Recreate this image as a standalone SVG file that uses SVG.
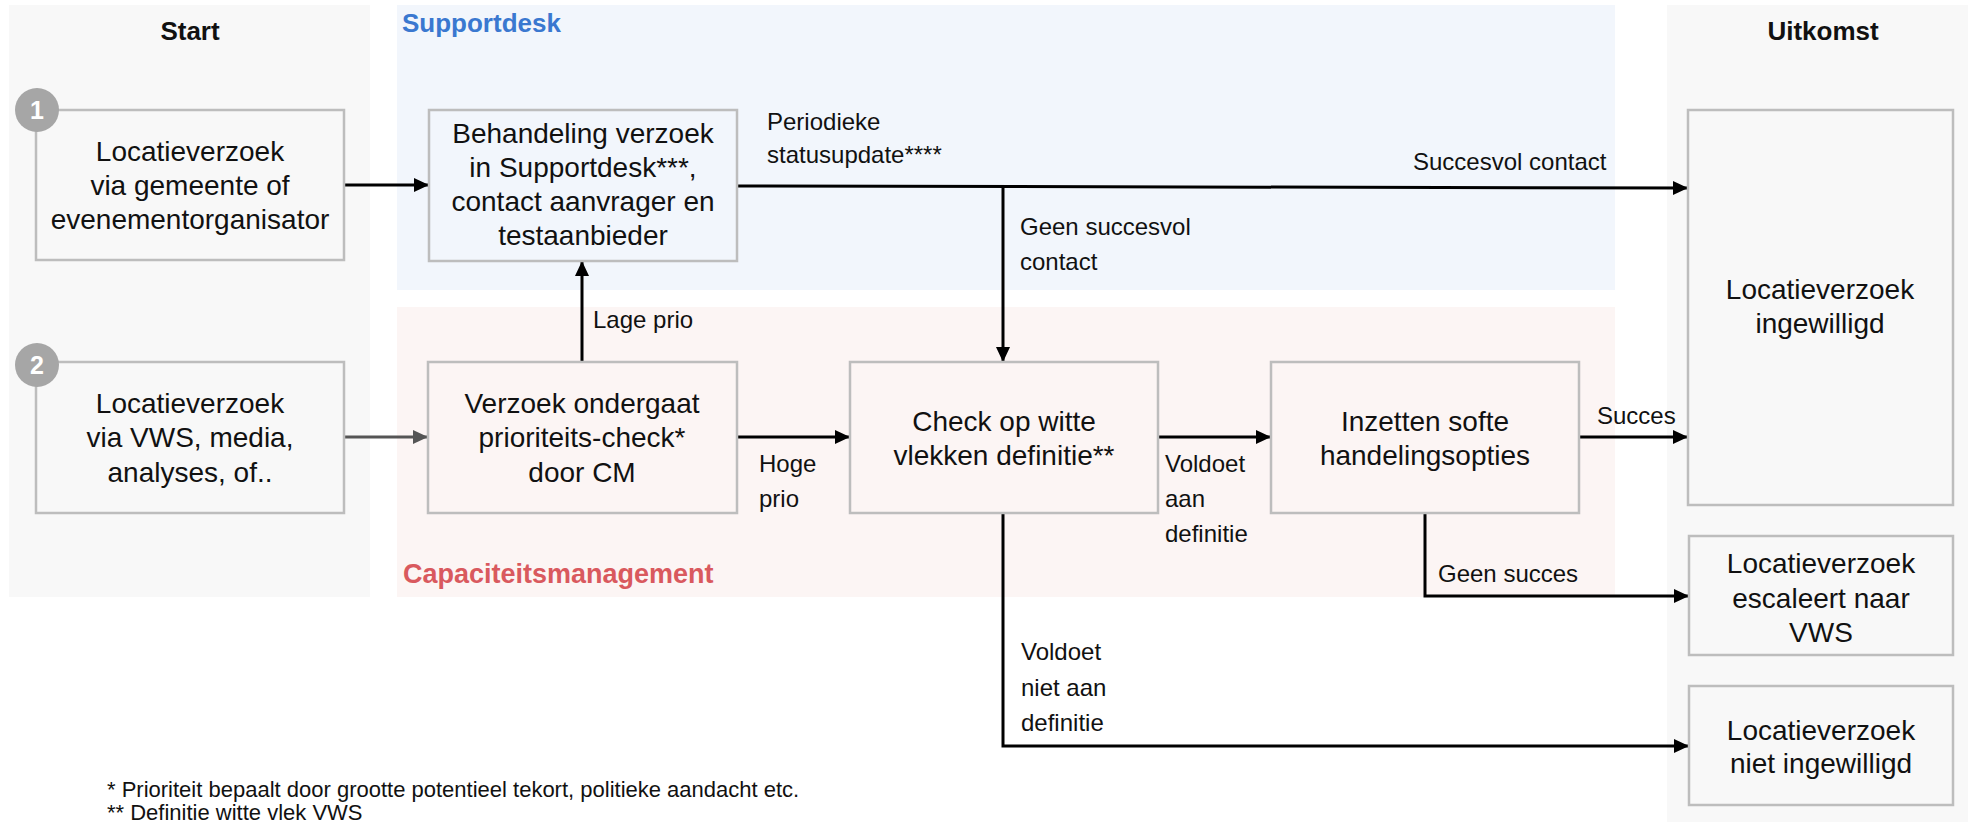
<svg xmlns="http://www.w3.org/2000/svg" width="1972" height="827" viewBox="0 0 1972 827">
<style>
text{font-family:"Liberation Sans",Arial,sans-serif;fill:#111}
.box{fill:none;stroke:#bdbdbd;stroke-width:2.5}
.bt{font-size:28px;text-anchor:middle}
.lb{font-size:24px}
.hd{font-size:26px;font-weight:bold}
.cn{fill:none;stroke:#000;stroke-width:3}
.num{fill:#a6a6a6}
.nt{font-size:25px;font-weight:bold;fill:#fff;text-anchor:middle}
.fn{font-size:22px}
</style>
<defs>
<marker id="ah" markerUnits="userSpaceOnUse" markerWidth="16" markerHeight="16" refX="15" refY="8" orient="auto">
<path d="M0,1 L15,8 L0,15 Z" fill="#000"/>
</marker>
<marker id="ahg" markerUnits="userSpaceOnUse" markerWidth="16" markerHeight="16" refX="15" refY="8" orient="auto">
<path d="M0,1 L15,8 L0,15 Z" fill="#555"/>
</marker>
</defs>
<rect width="1972" height="827" fill="#fff"/>
<g id="lanes">
<rect x="9" y="5" width="361" height="592" fill="#f8f8f8"/>
<rect x="397" y="5" width="1218" height="285" fill="#f2f6fc"/>
<rect x="397" y="307" width="1218" height="290" fill="#fcf5f4"/>
<rect x="1667" y="5" width="301" height="817" fill="#f8f8f8"/>
<text class="hd" x="190" y="40" text-anchor="middle">Start</text>
<text class="hd" x="402" y="32" style="fill:#3a78d0">Supportdesk</text>
<text class="hd" x="403" y="583" style="fill:#d9595e;font-size:27px">Capaciteitsmanagement</text>
<text class="hd" x="1823" y="40" text-anchor="middle">Uitkomst</text>
</g>
<g id="connectors">
<path class="cn" d="M344,185 H429" marker-end="url(#ah)"/>
<path class="cn" d="M344,437 H428" style="stroke:#555" marker-end="url(#ahg)"/>
<path class="cn" d="M582,362 V261" marker-end="url(#ah)"/>
<path class="cn" d="M737,186 L1688,188" marker-end="url(#ah)"/>
<path class="cn" d="M1003,186 V362" marker-end="url(#ah)"/>
<path class="cn" d="M737,437 H850" marker-end="url(#ah)"/>
<path class="cn" d="M1158,437 H1271" marker-end="url(#ah)"/>
<path class="cn" d="M1579,437 H1688" marker-end="url(#ah)"/>
<path class="cn" d="M1425,513 V596 H1689" marker-end="url(#ah)"/>
<path class="cn" d="M1003,513 V746 H1689" marker-end="url(#ah)"/>
<text class="lb" x="593" y="328">Lage prio</text>
<text class="lb" x="767" y="130">Periodieke</text>
<text class="lb" x="767" y="163">statusupdate****</text>
<text class="lb" x="1413" y="170">Succesvol contact</text>
<text class="lb" x="1020" y="235">Geen succesvol</text>
<text class="lb" x="1020" y="270">contact</text>
<text class="lb" x="759" y="472">Hoge</text>
<text class="lb" x="759" y="507">prio</text>
<text class="lb" x="1165" y="472">Voldoet</text>
<text class="lb" x="1165" y="507">aan</text>
<text class="lb" x="1165" y="542">definitie</text>
<text class="lb" x="1597" y="424">Succes</text>
<text class="lb" x="1438" y="582">Geen succes</text>
<text class="lb" x="1021" y="660">Voldoet</text>
<text class="lb" x="1021" y="696">niet aan</text>
<text class="lb" x="1021" y="731">definitie</text>
</g>
<g id="n1">
<rect class="box" x="36" y="110" width="308" height="150"/>
<circle class="num" cx="37" cy="110" r="22"/>
<text class="nt" x="37" y="119">1</text>
<text class="bt" x="190" y="161">Locatieverzoek</text>
<text class="bt" x="190" y="195">via gemeente of</text>
<text class="bt" x="190" y="229">evenementorganisator</text>
</g>
<g id="n2">
<rect class="box" x="36" y="362" width="308" height="151"/>
<circle class="num" cx="37" cy="365" r="22"/>
<text class="nt" x="37" y="374">2</text>
<text class="bt" x="190" y="413">Locatieverzoek</text>
<text class="bt" x="190" y="447">via VWS, media,</text>
<text class="bt" x="190" y="482">analyses, of..</text>
</g>
<g id="behandeling">
<rect class="box" x="429" y="110" width="308" height="151"/>
<text class="bt" x="583" y="143">Behandeling verzoek</text>
<text class="bt" x="583" y="177">in Supportdesk***,</text>
<text class="bt" x="583" y="211">contact aanvrager en</text>
<text class="bt" x="583" y="245">testaanbieder</text>
</g>
<g id="verzoek">
<rect class="box" x="428" y="362" width="309" height="151"/>
<text class="bt" x="582" y="413">Verzoek ondergaat</text>
<text class="bt" x="582" y="447">prioriteits-check*</text>
<text class="bt" x="582" y="482">door CM</text>
</g>
<g id="check">
<rect class="box" x="850" y="362" width="308" height="151"/>
<text class="bt" x="1004" y="431">Check op witte</text>
<text class="bt" x="1004" y="465">vlekken definitie**</text>
</g>
<g id="inzetten">
<rect class="box" x="1271" y="362" width="308" height="151"/>
<text class="bt" x="1425" y="431">Inzetten softe</text>
<text class="bt" x="1425" y="465">handelingsopties</text>
</g>
<g id="ingewilligd">
<rect class="box" x="1688" y="110" width="265" height="395"/>
<text class="bt" x="1820" y="299">Locatieverzoek</text>
<text class="bt" x="1820" y="333">ingewilligd</text>
</g>
<g id="escaleert">
<rect class="box" x="1689" y="536" width="264" height="119"/>
<text class="bt" x="1821" y="573">Locatieverzoek</text>
<text class="bt" x="1821" y="608">escaleert naar</text>
<text class="bt" x="1821" y="642">VWS</text>
</g>
<g id="niet-ingewilligd">
<rect class="box" x="1689" y="686" width="264" height="119"/>
<text class="bt" x="1821" y="740">Locatieverzoek</text>
<text class="bt" x="1821" y="773">niet ingewilligd</text>
</g>
<g id="footnotes">
<text class="fn" x="107" y="797">* Prioriteit bepaalt door grootte potentieel tekort, politieke aandacht etc.</text>
<text class="fn" x="107" y="820">** Definitie witte vlek VWS</text>
</g>
</svg>
